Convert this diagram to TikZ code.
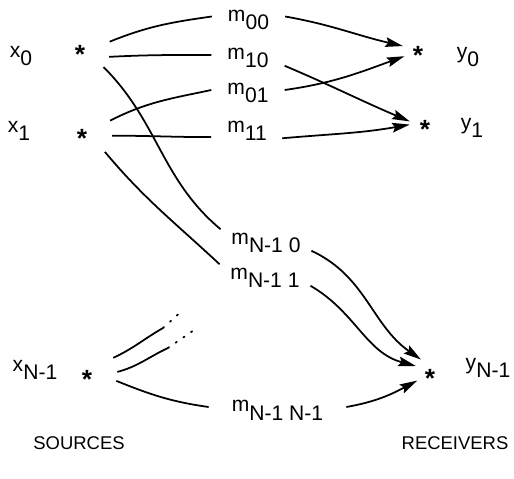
\documentclass[tikz,border=0pt]{standalone}
\usepackage{fontspec}
\setmainfont{Liberation Sans}
\usetikzlibrary{arrows.meta}

\newcommand{\idx}[2]{#1\raisebox{-0.4em}{#2}}
\newcommand{\starmark}{{\fontsize{15}{15}\selectfont\raisebox{-0.57em}[0pt][0pt]{\textbf{*}}}}

\begin{document}
\begin{tikzpicture}[x=0.02cm,y=0.02cm,font=\fontsize{12}{14}\selectfont]

  % Definitions
  \tikzstyle{src} = [circle, minimum size=1.2cm, inner sep=0pt]
  \tikzstyle{rcv} = [circle, minimum size=0.6cm, inner sep=0pt]
  \tikzstyle{lbl} = [rectangle, text height=0.52em, text depth=0pt, inner xsep=9pt]
  \tikzstyle{caption} = [font=\fontsize{10.5}{12}\selectfont]
  \tikzstyle{wire} = [line width=1pt]
  \tikzstyle{arrow} = [line width=1pt,-{Stealth[length=10pt,width=5.5pt,inset=1.5pt]}]
  \tikzstyle{more} = [line width=1pt, dash pattern=on 0.8pt off 4.5pt, line cap=round]

  \useasboundingbox (0,0) rectangle (514,-479);

  % sources and receivers
  \node (s0) [src] at (80,-48) {\starmark};
  \node (s1) [src] at (82,-132) {\starmark};
  \node (sN) [src] at (87,-373) {\starmark};
  \node (r0) [rcv] at (418,-49) {\starmark};
  \node (r1) [rcv] at (425,-123) {\starmark};
  \node (rN) [rcv] at (430,-372) {\starmark};

  \node (x0) [lbl] at (21,-53) {\idx{x}{0}};
  \node (x1) [lbl] at (19,-128) {\idx{x}{1}};
  \node (xN) [lbl] at (35,-367) {\idx{x}{N-1}};
  \node (y0) [lbl] at (468,-53.5) {\idx{y}{0}};
  \node (y1) [lbl] at (472,-125) {\idx{y}{1}};
  \node (yN) [lbl] at (488,-365) {\idx{y}{N-1}};

  % weights
  \node (m00) [lbl] at (248.5,-16.5) {\idx{m}{00}};
  \node (m10) [lbl] at (248,-55) {\idx{m}{10}};
  \node (m01) [lbl] at (248,-90) {\idx{m}{01}};
  \node (m11) [lbl] at (247,-127.5) {\idx{m}{11}};
  \node (mN0) [lbl, inner xsep=6pt] at (266,-240) {\idx{m}{N-1 0}};
  \node (mN1) [lbl, inner xsep=6pt] at (265,-275) {\idx{m}{N-1 1}};
  \node (mNN) [lbl, inner xsep=13pt] at (277.5,-407) {\idx{m}{N-1 N-1}};

  \node (srcs) [caption] at (79,-443) {SOURCES};
  \node (rcvs) [caption] at (455,-443) {RECEIVERS};

  \coordinate (u1) at (163,-328);
  \coordinate (u2) at (183,-310);
  \coordinate (l1) at (168,-348);
  \coordinate (l2) at (197,-328);

  \draw [wire] (s0.12) to[out=22,in=188] (m00.west);
  \draw [arrow] (m00.east) to[out=-10,in=167] (r0.169);
  \draw [wire] (s0.-17) to[out=3,in=180] (m10.west);
  \draw [arrow] (m10.south east) to[out=-23,in=157] (r1.174);
  \draw [wire] (s1.22) to[out=27,in=192] (m01.west);
  \draw [arrow] (m01.east) to[out=8,in=200] (r0.208);
  \draw [wire] (s1.-7) to[out=0,in=180] (m11.195);
  \draw [arrow] (m11.-17) to[out=5,in=190] (r1.186);

  \draw [wire] (s0.-39) to[out=-45,in=140] (mN0.north west);
  \draw [arrow] (mN0.south east) to[out=-25,in=145] (rN.126);
  \draw [wire] (s1.-41) to[out=-50,in=137] (mN1.north west);
  \draw [arrow] (mN1.south east) to[out=-30,in=165] (rN.157);

  \draw [wire] (sN.30) to[out=25,in=210] (u1);
  \draw [more] (u1) -- (u2);
  \draw [wire] (sN.2) to[out=15,in=205] (l1);
  \draw [more] (l1) -- (l2);
  \draw [wire] (sN.-15) to[out=-22,in=172] (mNN.west);
  \draw [arrow] (mNN.east) to[out=10,in=208] (rN.214);

\end{tikzpicture}
\end{document}
